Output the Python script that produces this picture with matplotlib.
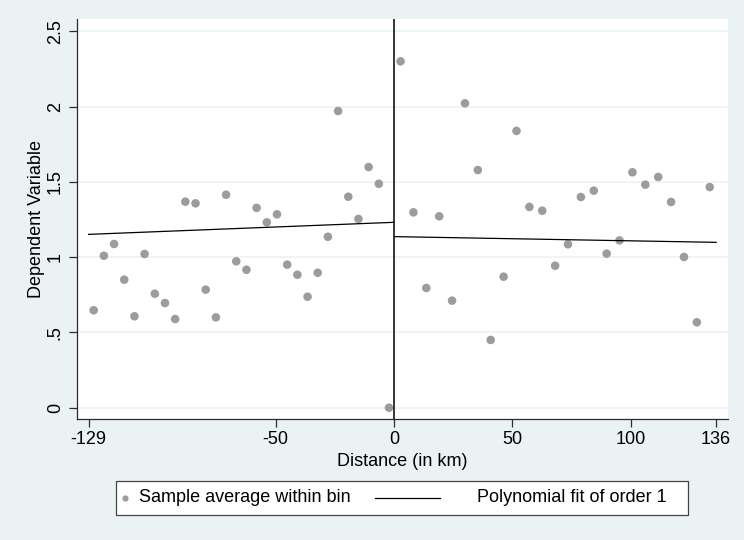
import matplotlib
matplotlib.use("Agg")
matplotlib.rcParams['font.family'] = 'Liberation Sans'

import matplotlib.pyplot as plt
from matplotlib.lines import Line2D
from matplotlib.patches import Rectangle

# --------------------------------------
# Data
# --------------------------------------
# bin centres, left of the cutoff (30 bins over -129..0)
x_left = [-126.85, -122.55, -118.25, -113.95, -109.65, -105.35, -101.05, -96.75,
          -92.45, -88.15, -83.85, -79.55, -75.25, -70.95, -66.65, -62.35,
          -58.05, -53.75, -49.45, -45.15, -40.85, -36.55, -32.25, -27.95,
          -23.65, -19.35, -15.05, -10.75, -6.45, -2.15]
y_left = [0.647, 1.009, 1.087, 0.850, 0.607, 1.021, 0.757, 0.695,
          0.589, 1.368, 1.357, 0.784, 0.600, 1.414, 0.972, 0.916,
          1.327, 1.231, 1.284, 0.950, 0.883, 0.737, 0.896, 1.135,
          1.970, 1.401, 1.253, 1.598, 1.487, 0.000]

# bin centres, right of the cutoff (25 bins over 0..136)
x_right = [2.72, 8.16, 13.60, 19.04, 24.48, 29.92, 35.36, 40.80, 46.24,
           51.68, 57.12, 62.56, 68.00, 73.44, 78.88, 84.32, 89.76, 95.20,
           100.64, 106.08, 111.52, 116.96, 122.40, 127.84, 133.28]
y_right = [2.300, 1.297, 0.795, 1.271, 0.711, 2.021, 1.578, 0.450, 0.870,
           1.838, 1.333, 1.308, 0.943, 1.085, 1.399, 1.441, 1.023, 1.111,
           1.563, 1.481, 1.532, 1.366, 1.001, 0.567, 1.465]

# linear fits on each side (end points)
fit_left_x = [-129, 0]
fit_left_y = [1.151, 1.231]
fit_right_x = [0, 136]
fit_right_y = [1.136, 1.098]

x_ticks = [-129, -50, 0, 50, 100, 136]
y_ticks = [0, 0.5, 1, 1.5, 2, 2.5]
y_ticklabels = ["0", ".5", "1", "1.5", "2", "2.5"]

bg = "#EAF2F3"
dot = "#9C9C9C"
axis_col = "#2b2b2b"
fs = 13

# --------------------------------------
# Plot
# --------------------------------------
fig = plt.figure(figsize=(7.44, 5.40), dpi=100, facecolor=bg)
ax = fig.add_axes([77 / 744, 1 - 419 / 540, (728 - 77) / 744, (419 - 19) / 540])
ax.set_facecolor("white")

for yv in y_ticks:
    ax.axhline(yv, color=bg, lw=1.1, zorder=0)

ax.scatter(x_left, y_left, s=38, color=dot, edgecolors="none", zorder=3)
ax.scatter(x_right, y_right, s=38, color=dot, edgecolors="none", zorder=3)
ax.plot(fit_left_x, fit_left_y, color="black", lw=0.9, zorder=4)
ax.plot(fit_right_x, fit_right_y, color="black", lw=0.9, zorder=4)
ax.axvline(0, color="black", lw=1.1, zorder=4)

ax.set_xlim(-133.9, 141.0)
ax.set_ylim(-0.075, 2.581)

ax.set_xticks(x_ticks)
ax.set_xticklabels([str(t) for t in x_ticks], fontsize=fs)
ax.set_yticks(y_ticks)
ax.set_yticklabels(y_ticklabels, fontsize=fs, rotation=90, va="center")
ax.tick_params(axis="both", direction="out", length=5.5, width=0.9,
               color=axis_col, labelcolor="black")
ax.tick_params(axis="y", pad=4)
ax.tick_params(axis="x", pad=3)

for side in ["top", "right"]:
    ax.spines[side].set_visible(False)
for side in ["left", "bottom"]:
    ax.spines[side].set_color(axis_col)
    ax.spines[side].set_linewidth(0.9)

ax.set_xlabel("Distance (in km)", fontsize=fs, labelpad=3.5)
ax.set_ylabel("Dependent Variable", fontsize=fs, labelpad=1)

# --------------------------------------
# Legend box (Stata style, below the plot)
# --------------------------------------
W, H = 744, 540
def fx(px):
    return px / W
def fy(py):
    return 1 - py / H

fig.add_artist(Rectangle((fx(116), fy(515)), fx(688) - fx(116), fy(481) - fy(515),
                         transform=fig.transFigure, facecolor="white",
                         edgecolor="#444444", lw=0.9))
fig.add_artist(Line2D([fx(125)], [fy(498)], transform=fig.transFigure,
                      marker="o", markersize=4.5, color=dot, markeredgewidth=0,
                      linestyle="none"))
fig.text(fx(139), fy(498), "Sample average within bin", fontsize=fs,
         va="center", ha="left")
fig.add_artist(Line2D([fx(375), fx(440)], [fy(498), fy(498)],
                      transform=fig.transFigure, color="black", lw=0.9))
fig.text(fx(477), fy(498), "Polynomial fit of order 1", fontsize=fs,
         va="center", ha="left")

fig.savefig("out.png", dpi=100, facecolor=bg)
plt.close(fig)
